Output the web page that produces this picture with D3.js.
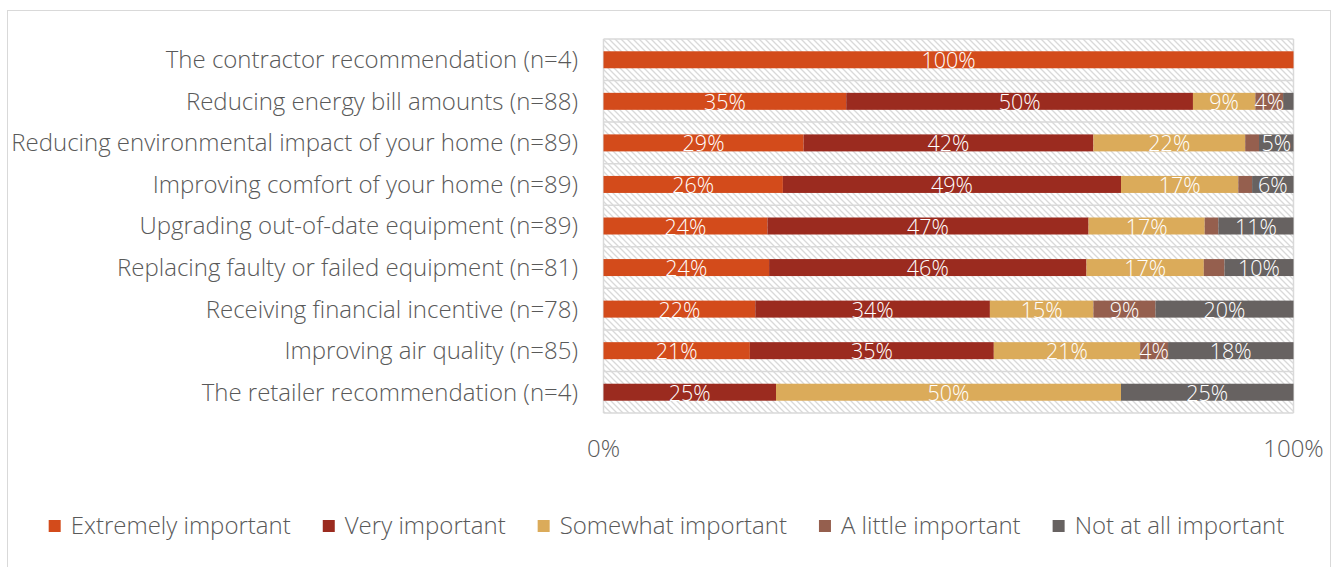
<!DOCTYPE html>
<html>
<head>
<meta charset="utf-8">
<script src="https://cdnjs.cloudflare.com/ajax/libs/d3/7.8.5/d3.min.js"></script>
<style>
  html, body { margin: 0; padding: 0; background: #fff; }
  svg { display: block; font-family: "Open Sans", "Noto Sans", sans-serif; font-weight: 300; }
</style>
</head>
<body>
<svg id="chart" width="1339" height="567"></svg>
<script>
// Survey: importance of each factor in the decision
const categories = [
  "The contractor recommendation (n=4)",
  "Reducing energy bill amounts (n=88)",
  "Reducing environmental impact of your home (n=89)",
  "Improving comfort of your home (n=89)",
  "Upgrading out-of-date equipment (n=89)",
  "Replacing faulty or failed equipment (n=81)",
  "Receiving financial incentive (n=78)",
  "Improving air quality (n=85)",
  "The retailer recommendation (n=4)"
];
const seriesNames = ["Extremely important", "Very important", "Somewhat important", "A little important", "Not at all important"];
const extremely = [100, 35, 29, 26, 24, 24, 22, 21, 0];
const very      = [0, 50, 42, 49, 47, 46, 34, 35, 25];
const somewhat  = [0, 9, 22, 17, 17, 17, 15, 21, 50];
const little    = [0, 4, 2, 2, 2, 3, 9, 4, 0];
const notAtAll  = [0, 1.5, 5, 6, 11, 10, 20, 18, 25];
// segments too narrow to carry a label
const hiddenLabels = { "A little important": [2, 3, 4, 5], "Not at all important": [1] };
const tickLabels = ["0%", "100%"];
const colors = ["#d34b1b", "#9b2b1f", "#dbab5a", "#955f4e", "#676261"];

const svg = d3.select("#chart");

// outer frame
svg.append("rect").attr("x", 7.5).attr("y", 10.5).attr("width", 1323).attr("height", 600)
  .attr("fill", "none").attr("stroke", "#d9d9d9").attr("stroke-width", 1);

const plot = { left: 603.5, right: 1293.5, top: 39, bottom: 413 };

// diagonal hatch for the plot background
const defs = svg.append("defs");
const pat = defs.append("pattern").attr("id", "hatch").attr("patternUnits", "userSpaceOnUse")
  .attr("width", 6).attr("height", 6);
pat.append("rect").attr("width", 6).attr("height", 6).attr("fill", "#ffffff");
pat.append("path").attr("d", "M-1,-1 L7,7 M-1,5 L1,7 M5,-1 L7,1")
  .attr("stroke", "#d9d9d9").attr("stroke-width", 1.3);

const rows = categories.map((c, i) => ({
  category: c,
  [seriesNames[0]]: extremely[i], [seriesNames[1]]: very[i], [seriesNames[2]]: somewhat[i],
  [seriesNames[3]]: little[i], [seriesNames[4]]: notAtAll[i]
}));
// 100% stacked: each row is normalised to its own total
const stacked = d3.stack().keys(seriesNames).offset(d3.stackOffsetExpand)(rows);

const x = d3.scaleLinear().domain([0, 1]).range([plot.left, plot.right]);
const y = d3.scaleBand().domain(categories).range([plot.top, plot.bottom]).paddingInner(0).paddingOuter(0);
const color = d3.scaleOrdinal().domain(seriesNames).range(colors);

svg.append("rect").attr("x", plot.left).attr("y", plot.top)
  .attr("width", plot.right - plot.left).attr("height", plot.bottom - plot.top)
  .attr("fill", "url(#hatch)");

// row separators and plot border
const bounds = categories.map(c => y(c)).concat([plot.bottom]);
svg.append("g").selectAll("line").data(bounds).join("line")
  .attr("x1", plot.left).attr("x2", plot.right).attr("y1", d => d).attr("y2", d => d)
  .attr("stroke", "#d9d9d9").attr("stroke-width", 1.5);
svg.append("line").attr("x1", plot.left).attr("x2", plot.left).attr("y1", plot.top).attr("y2", plot.bottom)
  .attr("stroke", "#d9d9d9").attr("stroke-width", 1.5);
svg.append("line").attr("x1", plot.right).attr("x2", plot.right).attr("y1", plot.top).attr("y2", plot.bottom)
  .attr("stroke", "#d9d9d9").attr("stroke-width", 1.5);

const barH = 17;
const layers = svg.append("g").selectAll("g").data(stacked).join("g")
  .attr("fill", d => color(d.key));
layers.selectAll("rect").data(d => d).join("rect")
  .attr("x", d => x(d[0]))
  .attr("y", d => y(d.data.category) + y.bandwidth() / 2 - barH / 2)
  .attr("width", d => Math.max(0, x(d[1]) - x(d[0])))
  .attr("height", barH);

// value labels
const labelG = svg.append("g");
stacked.forEach(layer => {
  layer.forEach((d, i) => {
    const v = rows[i][layer.key];
    if (!v) return;
    if ((hiddenLabels[layer.key] || []).includes(i)) return;
    labelG.append("text")
      .attr("x", (x(d[0]) + x(d[1])) / 2)
      .attr("y", y(d.data.category) + y.bandwidth() / 2 + 8.5)
      .attr("text-anchor", "middle")
      .attr("fill", "#ffffff")
      .attr("font-size", 21.5)
      .text(v + "%");
  });
});

// category axis labels
svg.append("g").selectAll("text").data(categories).join("text")
  .attr("x", 578).attr("y", d => y(d) + y.bandwidth() / 2)
  .attr("dy", "0.35em")
  .attr("text-anchor", "end").attr("fill", "#595959").attr("font-size", 24)
  .text(d => d);

// value axis labels
svg.append("g").selectAll("text").data(tickLabels).join("text")
  .attr("x", (d, i) => x(i)).attr("y", 457)
  .attr("text-anchor", "middle").attr("fill", "#595959").attr("font-size", 24)
  .text(d => d);

// legend
const legend = svg.append("g");
const items = legend.selectAll("g").data(seriesNames).join("g");
items.append("rect").attr("width", 12).attr("height", 12).attr("y", -6).attr("fill", d => color(d));
items.append("text").attr("x", 22).attr("dy", "0.35em").attr("fill", "#595959").attr("font-size", 24).text(d => d);
const gap = 32;
let offs = [], cur = 0;
items.each(function() {
  offs.push(cur);
  cur += 22 + d3.select(this).select("text").node().getComputedTextLength() + gap;
});
const total = cur - gap;
const startX = 666.5 - total / 2;
items.attr("transform", (d, i) => `translate(${startX + offs[i]},526)`);
</script>
</body>
</html>
